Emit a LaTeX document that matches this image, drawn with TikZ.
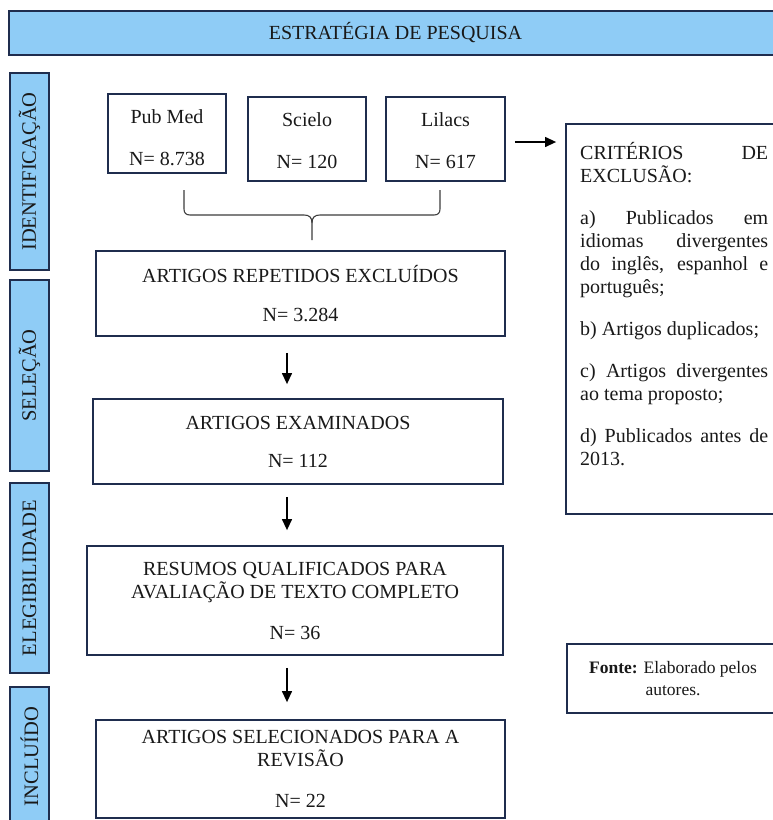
\documentclass[tikz,border=0pt]{standalone}
\usepackage{fontspec}
\setmainfont{Liberation Serif}
\usetikzlibrary{arrows.meta,calc}
\definecolor{navy}{RGB}{31,45,78}
\definecolor{lblue}{RGB}{143,204,246}
\definecolor{ink}{RGB}{25,25,25}
\begin{document}
\begin{tikzpicture}[x=1pt,y=-1pt,
  box/.style={draw=navy,line width=1.8pt,fill=white,inner sep=0pt,align=center,text=ink,font=\fontsize{20}{23}\selectfont},
  side/.style={draw=navy,line width=1.8pt,fill=lblue,inner sep=0pt,rotate=90,minimum height=39pt,text=ink,font=\fontsize{20.5}{23}\selectfont},
  arr/.style={draw=black,line width=1.3pt,-{Triangle[length=11pt,width=10pt]}},
  bracel/.style={draw=ink!85,line width=1.1pt}]
\useasboundingbox (0,0) rectangle (772,820);

% title
\node[draw=navy,line width=1.8pt,fill=lblue,inner sep=0pt,minimum width=773pt,minimum height=44pt,text=ink,font=\fontsize{20}{23}\selectfont] (title) at (395.5,33) {ESTRATÉGIA DE PESQUISA};

% side labels
\node[side,minimum width=197pt] (s1) at (29.5,171.5) {IDENTIFICAÇÃO};
\node[side,minimum width=191pt] (s2) at (29.5,375.5) {SELEÇÃO};
\node[side,minimum width=190pt] (s3) at (29.5,578) {ELEGIBILIDADE};
\node[side,minimum width=139pt] (s4) at (29.5,756.5) {INCLUÍDO};

% sources
\node[box,minimum width=118pt,minimum height=79pt] (pub) at (167,133.5) {\rule{0pt}{23pt}Pub Med\\[19pt]N= 8.738};
\node[box,minimum width=118pt,minimum height=84pt] (sci) at (307,139) {\rule{0pt}{17pt}Scielo\\[19pt]N= 120};
\node[box,minimum width=119pt,minimum height=84pt] (lil) at (445.5,139) {\rule{0pt}{17pt}Lilacs\\[19pt]N= 617};

% brace
\coordinate (bL) at (184,190);
\coordinate (bR) at (440,190);
\coordinate (bT) at (312,240);
\draw[bracel] (bL) -- (184,209) .. controls (184,213) and (186,215) .. (190,215) -- (304,215)
  .. controls (309,215) and (312,217) .. (312,223) -- (bT);
\draw[bracel] (bR) -- (440,209) .. controls (440,213) and (438,215) .. (434,215) -- (320,215)
  .. controls (315,215) and (312,217) .. (312,223);

% main flow
\node[box,minimum width=409pt,minimum height=85pt] (rep) at (300.5,293.5) {ARTIGOS REPETIDOS EXCLUÍDOS\\[16pt]N= 3.284};
\node[box,minimum width=410pt,minimum height=85pt] (exa) at (298,441.5) {ARTIGOS EXAMINADOS\\[15pt]N= 112};
\node[box,minimum width=416pt,minimum height=109pt] (res) at (295,600.5) {RESUMOS QUALIFICADOS PARA\\AVALIAÇÃO DE TEXTO COMPLETO\\[18pt]N= 36};
\node[box,minimum width=409pt,minimum height=98pt] (sel) at (300.5,769) {ARTIGOS SELECIONADOS PARA A\\REVISÃO\\[18pt]N= 22};

\draw[arr] ([xshift=-13.5pt,yshift=-16pt]rep.south) -- ([xshift=-11pt,yshift=14pt]exa.north);
\draw[arr] ([xshift=-11pt,yshift=-12pt]exa.south) -- ([xshift=-8pt,yshift=15pt]res.north);
\draw[arr] ([xshift=-8pt,yshift=-12pt]res.south) -- ([xshift=-13.5pt,yshift=17pt]sel.north);

% criteria
\node[draw=navy,line width=1.8pt,fill=white,minimum width=216pt,minimum height=390pt,inner sep=0pt] (crit) at (674,319) {};
\node[anchor=base west,inner sep=0pt,text=ink,font=\fontsize{20}{23}\selectfont] (crittxt) at (580,159)
{\parbox[t]{188pt}{\parindent=0pt\parskip=19pt
CRITÉRIOS DE\linebreak EXCLUSÃO:

a) Publicados em\linebreak idiomas divergentes\linebreak do inglês, espanhol e\linebreak português;

b) Artigos duplicados;

c) Artigos divergentes\linebreak ao tema proposto;

d) Publicados antes de\linebreak 2013.}};

\draw[arr] ([xshift=9pt,yshift=-3pt]lil.east) -- ($(lil.east -| crit.west)+(-9,3)$);

% source note
\node[box,minimum width=212pt,minimum height=69pt,font=\fontsize{17.5}{22}\selectfont] (fonte) at (673,678.5) {\textbf{Fonte:} Elaborado pelos\\autores.};
\end{tikzpicture}
\end{document}
